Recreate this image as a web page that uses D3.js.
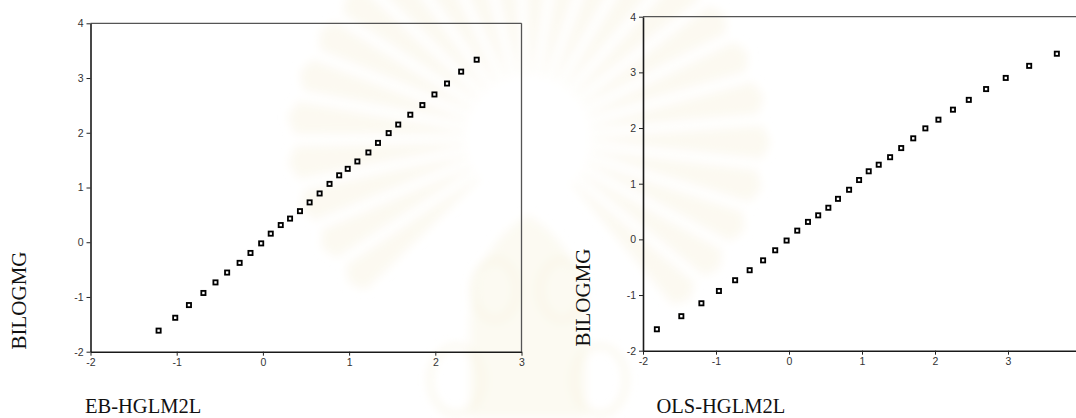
<!DOCTYPE html>
<html>
<head>
<meta charset="utf-8">
<script src="https://cdn.jsdelivr.net/npm/d3@7"></script>
<style>
  html, body { margin: 0; padding: 0; background: #fff; overflow: hidden; }
  svg { display: block; }
</style>
</head>
<body>
<svg id="chart" width="1076" height="418"></svg>
<script>
// BILOGMG scores (shared vertical variable of both panels)
const bilogmg = [-1.615, -1.38, -1.148, -0.927, -0.734, -0.554, -0.377, -0.196, -0.021,
  0.157, 0.314, 0.432, 0.568, 0.728, 0.891, 1.066, 1.223, 1.341, 1.476, 1.64,
  1.815, 1.994, 2.15, 2.33, 2.506, 2.70, 2.90, 3.117, 3.335];

// EB-HGLM2L estimates
const ebHglm2l = [-1.21, -1.017, -0.858, -0.69, -0.55, -0.415, -0.27, -0.144, -0.02,
  0.091, 0.207, 0.315, 0.43, 0.542, 0.658, 0.773, 0.885, 0.984, 1.096, 1.224,
  1.335, 1.459, 1.57, 1.71, 1.85, 1.99, 2.136, 2.30, 2.48];

// OLS-HGLM2L estimates
const olsHglm2l = [-1.81, -1.475, -1.20, -0.96, -0.738, -0.539, -0.355, -0.189, -0.033,
  0.113, 0.26, 0.40, 0.539, 0.671, 0.823, 0.96, 1.092, 1.229, 1.385, 1.537,
  1.702, 1.868, 2.047, 2.246, 2.463, 2.70, 2.969, 3.29, 3.669];

const yTicks = [-2, -1, 0, 1, 2, 3, 4];
const xTicksEb = [-2, -1, 0, 1, 2, 3];
const xTicksOls = [-2, -1, 0, 1, 2, 3];
const yTitle = "BILOGMG";

const svg = d3.select("#chart");

// ---- very faint emblem in the background ----
const defs = svg.append("defs");
defs.append("filter").attr("id", "soft").attr("x", "-20%").attr("y", "-20%")
  .attr("width", "140%").attr("height", "140%")
  .append("feGaussianBlur").attr("stdDeviation", 5);

const emblem = svg.append("g").attr("filter", "url(#soft)");
const cx = 528, cy = 138;
const rayAngles = d3.range(-45, 226, 11);
rayAngles.forEach(a => {
  const t = a * Math.PI / 180;
  const r0 = 62, r1 = 235 - 20 * Math.abs(Math.sin(t));
  const w0 = 0.02, w1 = 0.07;
  const p = (r, dt) => [cx + r * Math.cos(t + dt), cy - r * Math.sin(t + dt)];
  const pts = [p(r0, -w0), p(r1, -w1), p(r1 + 8, 0), p(r1, w1), p(r0, w0)];
  emblem.append("path")
    .attr("d", "M" + pts.map(d => d.join(",")).join("L") + "Z")
    .attr("fill", "#fcf9f1");
});
// lower crown / spire part of the emblem
const crown = svg.append("g").attr("filter", "url(#soft)");
crown.append("path")
  .attr("d", "M470,418 L470,330 Q470,250 528,215 Q586,250 586,330 L586,418 Z")
  .attr("fill", "#fcfaf2");
[[495, 290, 22, 30], [562, 290, 22, 30], [600, 380, 26, 34], [456, 380, 26, 34]]
  .forEach(([ex, ey, rx, ry]) => crown.append("ellipse")
    .attr("cx", ex).attr("cy", ey).attr("rx", rx).attr("ry", ry)
    .attr("fill", "none").attr("stroke", "#f7f2df").attr("stroke-width", 3));
svg.append("circle").attr("cx", cx).attr("cy", cy).attr("r", 55)
  .attr("fill", "#fff").attr("filter", "url(#soft)");

// ---- scatter panels ----
const panels = [
  { xs: ebHglm2l, xDomain: [-2, 3], xRange: [90.5, 521.5], yRange: [351.7, 23.3],
    xTicks: xTicksEb, xTitle: "EB-HGLM2L", xTitleAt: [85, 413], yTitleAt: [26, 300.5] },
  { xs: olsHglm2l, xDomain: [-2, 4], xRange: [643, 1081], yRange: [350.7, 16.7],
    xTicks: xTicksOls, xTitle: "OLS-HGLM2L", xTitleAt: [656.5, 413], yTitleAt: [589.5, 297.5] }
];

panels.forEach(pn => {
  const x = d3.scaleLinear().domain(pn.xDomain).range(pn.xRange);
  const y = d3.scaleLinear().domain([-2, 4]).range(pn.yRange);
  const g = svg.append("g");

  // frame: top and right edges
  g.append("line")
    .attr("x1", pn.xRange[0]).attr("x2", pn.xRange[1])
    .attr("y1", pn.yRange[1]).attr("y2", pn.yRange[1])
    .attr("stroke", "#555").attr("stroke-width", 1.3);
  g.append("line")
    .attr("x1", pn.xRange[1]).attr("x2", pn.xRange[1])
    .attr("y1", pn.yRange[1]).attr("y2", pn.yRange[0])
    .attr("stroke", "#555").attr("stroke-width", 1.3);

  const yAxis = g.append("g")
    .attr("transform", `translate(${pn.xRange[0]},0)`)
    .call(d3.axisLeft(y).tickValues(yTicks).tickFormat(d3.format("d"))
      .tickSize(4).tickSizeOuter(0).tickPadding(3));
  const xAxis = g.append("g")
    .attr("transform", `translate(0,${pn.yRange[0]})`)
    .call(d3.axisBottom(x).tickValues(pn.xTicks).tickFormat(d3.format("d"))
      .tickSize(4).tickSizeOuter(0).tickPadding(3));

  [yAxis, xAxis].forEach(ax => {
    ax.select(".domain").attr("stroke", "#1a1a1a").attr("stroke-width", 1.6);
    ax.selectAll(".tick line").attr("stroke", "#222").attr("stroke-width", 1);
    ax.selectAll(".tick text")
      .attr("fill", "#333")
      .style("font-family", "'Liberation Sans', Arial, sans-serif")
      .style("font-size", "10.5px")
      .text(d => String(d));   // plain hyphen for negatives
  });

  // points
  g.selectAll("rect.pt")
    .data(pn.xs.map((v, i) => [v, bilogmg[i]]))
    .join("rect")
    .attr("class", "pt")
    .attr("x", d => x(d[0]) - 2.1)
    .attr("y", d => y(d[1]) - 2.1)
    .attr("width", 4.2).attr("height", 4.2)
    .attr("fill", "#fff").attr("stroke", "#000").attr("stroke-width", 1.8);

  // titles
  g.append("text")
    .attr("transform", `translate(${pn.yTitleAt[0]},${pn.yTitleAt[1]}) rotate(-90)`)
    .attr("text-anchor", "middle")
    .style("font-family", "'Liberation Serif', 'Times New Roman', serif")
    .style("font-size", "21px").attr("fill", "#111")
    .text(yTitle);
  g.append("text")
    .attr("x", pn.xTitleAt[0]).attr("y", pn.xTitleAt[1])
    .style("font-family", "'Liberation Serif', 'Times New Roman', serif")
    .style("font-size", "20.5px").attr("fill", "#111")
    .text(pn.xTitle);
});
</script>
</body>
</html>
